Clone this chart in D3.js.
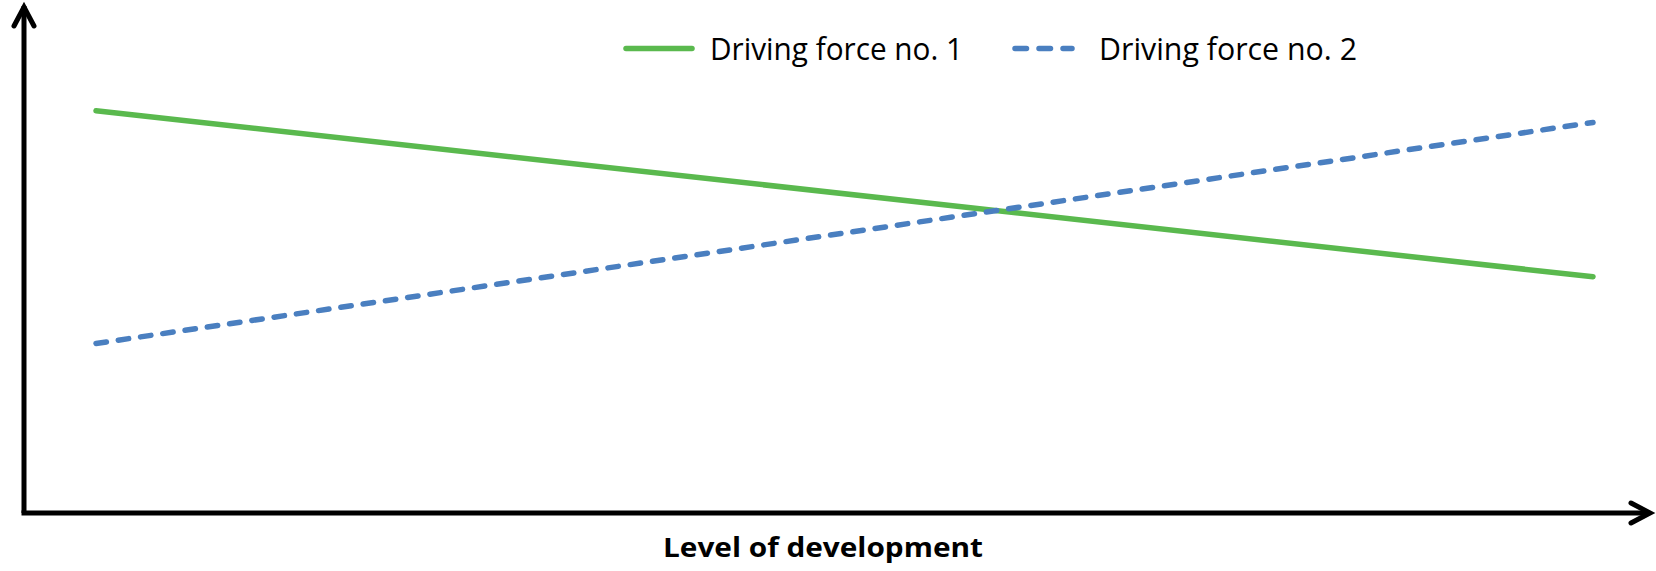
<!DOCTYPE html>
<html>
<head>
<meta charset="utf-8">
<script src="https://cdn.jsdelivr.net/npm/d3@7"></script>
<style>
  html, body { margin: 0; padding: 0; background: #fff; }
  svg { display: block; }
  text { font-family: "Open Sans", "Noto Sans", sans-serif; }
</style>
</head>
<body>
<svg id="chart" width="1656" height="571"></svg>
<script>
// Level of development (0 = low, 1 = high)
const levels = [0, 1];
// Relative strength of each driving force at those levels
const force1 = [82.1, 48.2];
const force2 = [34.6, 79.7];
const seriesNames = ["Driving force no. 1", "Driving force no. 2"];
const xTitle = "Level of development";

const svg = d3.select("#chart");

const origin = { x: 24, y: 513 };
const x = d3.scaleLinear().domain([0, 1]).range([96, 1593]);
const y = d3.scaleLinear().domain([0, 100]).range([origin.y, 23]);

// Axes drawn as plain arrows
const axisG = svg.append("g")
  .attr("stroke", "#000")
  .attr("stroke-width", 5)
  .attr("fill", "none")
  .attr("stroke-linecap", "butt");

axisG.append("path")
  .attr("d", `M${origin.x},${origin.y} L${origin.x},6`);
axisG.append("path")
  .attr("d", `M${origin.x - 2.5},${origin.y} L1649,${origin.y}`);

// arrow heads
axisG.append("path")
  .attr("stroke-linecap", "round")
  .attr("stroke-linejoin", "miter")
  .attr("d", `M${origin.x - 10},26 L${origin.x},7 L${origin.x + 10},26`);
axisG.append("path")
  .attr("stroke-linecap", "round")
  .attr("stroke-linejoin", "miter")
  .attr("d", `M1631,${origin.y - 10} L1650,${origin.y} L1631,${origin.y + 10}`);

const line = d3.line()
  .x(d => x(d[0]))
  .y(d => y(d[1]));

svg.append("path")
  .datum(d3.zip(levels, force1))
  .attr("d", line)
  .attr("fill", "none")
  .attr("stroke", "#5ab94e")
  .attr("stroke-width", 5.5)
  .attr("stroke-linecap", "round");

svg.append("path")
  .datum(d3.zip(levels, force2))
  .attr("d", line)
  .attr("fill", "none")
  .attr("stroke", "#4a7fc0")
  .attr("stroke-width", 5.5)
  .attr("stroke-linecap", "round")
  .attr("stroke-dasharray", "10.5 12");

// Legend
const legend = svg.append("g");
const items = [
  { name: seriesNames[0], color: "#5ab94e", dash: null, x0: 626, x1: 692, tx: 710, tw: 253 },
  { name: seriesNames[1], color: "#4a7fc0", dash: "11.5 12.5", x0: 1015, x1: 1072, tx: 1099, tw: 258 }
];
items.forEach(it => {
  legend.append("line")
    .attr("x1", it.x0).attr("x2", it.x1)
    .attr("y1", 48.5).attr("y2", 48.5)
    .attr("stroke", it.color)
    .attr("stroke-width", 5.5)
    .attr("stroke-linecap", "round")
    .attr("stroke-dasharray", it.dash);
  legend.append("text")
    .attr("x", it.tx).attr("y", 59.5)
    .attr("font-size", 31)
    .attr("textLength", it.tw)
    .attr("lengthAdjust", "spacingAndGlyphs")
    .attr("fill", "#000")
    .text(it.name);
});

// X axis title
svg.append("text")
  .attr("x", 823).attr("y", 556.5)
  .attr("text-anchor", "middle")
  .attr("font-size", 26)
  .attr("font-weight", "bold")
  .attr("textLength", 320)
  .attr("lengthAdjust", "spacingAndGlyphs")
  .attr("fill", "#000")
  .text(xTitle);
</script>
</body>
</html>
